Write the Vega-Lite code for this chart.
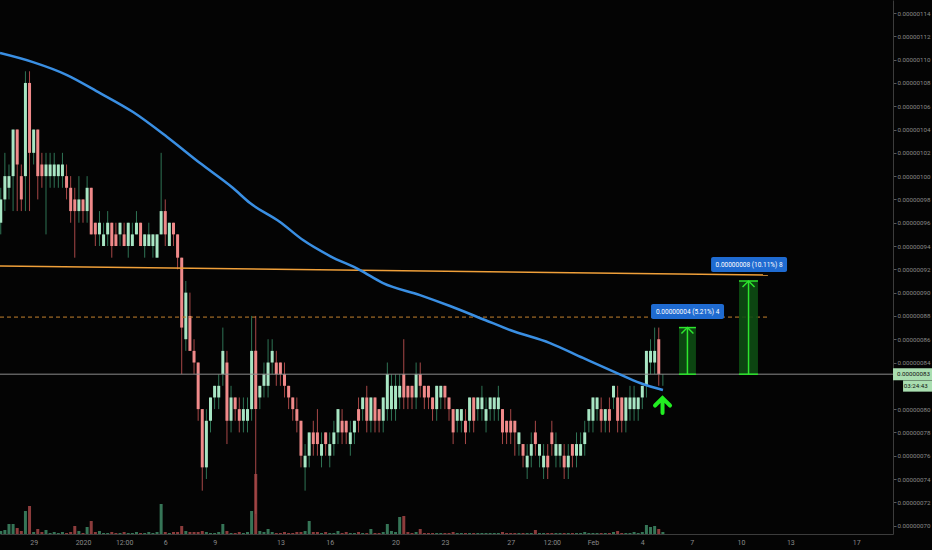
{
"$schema":"https://vega.github.io/schema/vega-lite/v6.json",
"width":893,"height":534,
"autosize":{"type":"none"},
"padding":{"left":0,"top":0,"right":39,"bottom":16},
"config":{"background":"#040404","view":{"stroke":null},"font":"Roboto","axis":{"grid":false}},
"datasets":{
"candles":[
{"t":"2019-12-27T00:00Z","open":96,"high":99,"low":95,"close":98,"volume":3},
{"t":"2019-12-27T06:00Z","open":98,"high":102,"low":97,"close":100,"volume":4},
{"t":"2019-12-27T12:00Z","open":99,"high":101,"low":98,"close":100,"volume":10},
{"t":"2019-12-27T18:00Z","open":100,"high":104,"low":97,"close":104,"volume":10},
{"t":"2019-12-28T00:00Z","open":104,"high":104,"low":97,"close":101,"volume":6},
{"t":"2019-12-28T06:00Z","open":100,"high":101,"low":97,"close":98,"volume":3},
{"t":"2019-12-28T12:00Z","open":100,"high":109,"low":97,"close":108,"volume":23},
{"t":"2019-12-28T18:00Z","open":108,"high":109,"low":97,"close":102,"volume":28},
{"t":"2019-12-29T00:00Z","open":102,"high":104,"low":101,"close":104,"volume":2},
{"t":"2019-12-29T06:00Z","open":104,"high":104,"low":98,"close":100,"volume":5},
{"t":"2019-12-29T12:00Z","open":101,"high":102,"low":99,"close":100,"volume":2},
{"t":"2019-12-29T18:00Z","open":100,"high":102,"low":95,"close":101,"volume":4},
{"t":"2019-12-30T00:00Z","open":100,"high":102,"low":99,"close":101,"volume":1},
{"t":"2019-12-30T06:00Z","open":100,"high":102,"low":99,"close":101,"volume":2},
{"t":"2019-12-30T12:00Z","open":100,"high":101,"low":99,"close":101,"volume":1},
{"t":"2019-12-30T18:00Z","open":100,"high":102,"low":99,"close":101,"volume":2},
{"t":"2019-12-31T00:00Z","open":100,"high":101,"low":98,"close":99,"volume":1},
{"t":"2019-12-31T06:00Z","open":99,"high":100,"low":96,"close":97,"volume":2},
{"t":"2019-12-31T12:00Z","open":98,"high":99,"low":93,"close":97,"volume":8},
{"t":"2019-12-31T18:00Z","open":97,"high":100,"low":96,"close":98,"volume":3},
{"t":"2020-01-01T00:00Z","open":98,"high":98,"low":96,"close":97,"volume":1},
{"t":"2020-01-01T06:00Z","open":97,"high":100,"low":96,"close":99,"volume":7},
{"t":"2020-01-01T12:00Z","open":99,"high":99,"low":95,"close":95,"volume":13},
{"t":"2020-01-01T18:00Z","open":96,"high":96,"low":94,"close":95,"volume":2},
{"t":"2020-01-02T00:00Z","open":95,"high":97,"low":94,"close":96,"volume":3},
{"t":"2020-01-02T06:00Z","open":94,"high":96,"low":94,"close":95,"volume":1},
{"t":"2020-01-02T12:00Z","open":95,"high":97,"low":94,"close":96,"volume":1},
{"t":"2020-01-02T18:00Z","open":96,"high":96,"low":93,"close":94,"volume":2},
{"t":"2020-01-03T00:00Z","open":95,"high":96,"low":94,"close":94,"volume":1},
{"t":"2020-01-03T06:00Z","open":95,"high":96,"low":94,"close":96,"volume":1},
{"t":"2020-01-03T12:00Z","open":95,"high":96,"low":94,"close":94,"volume":2},
{"t":"2020-01-03T18:00Z","open":94,"high":96,"low":93,"close":96,"volume":1},
{"t":"2020-01-04T00:00Z","open":94,"high":96,"low":94,"close":95,"volume":1},
{"t":"2020-01-04T06:00Z","open":95,"high":97,"low":95,"close":96,"volume":2},
{"t":"2020-01-04T12:00Z","open":96,"high":96,"low":94,"close":94,"volume":1},
{"t":"2020-01-04T18:00Z","open":94,"high":95,"low":93,"close":95,"volume":1},
{"t":"2020-01-05T00:00Z","open":94,"high":96,"low":94,"close":95,"volume":2},
{"t":"2020-01-05T06:00Z","open":94,"high":95,"low":93,"close":95,"volume":1},
{"t":"2020-01-05T12:00Z","open":93,"high":95,"low":93,"close":95,"volume":2},
{"t":"2020-01-05T18:00Z","open":95,"high":102,"low":95,"close":97,"volume":30},
{"t":"2020-01-06T00:00Z","open":97,"high":98,"low":94,"close":95,"volume":2},
{"t":"2020-01-06T06:00Z","open":94,"high":96,"low":94,"close":96,"volume":1},
{"t":"2020-01-06T12:00Z","open":96,"high":96,"low":94,"close":95,"volume":2},
{"t":"2020-01-06T18:00Z","open":95,"high":95,"low":92,"close":93,"volume":2},
{"t":"2020-01-07T00:00Z","open":93,"high":93,"low":83,"close":87,"volume":8},
{"t":"2020-01-07T06:00Z","open":86,"high":91,"low":85,"close":90,"volume":3},
{"t":"2020-01-07T12:00Z","open":88,"high":90,"low":85,"close":85,"volume":2},
{"t":"2020-01-07T18:00Z","open":85,"high":86,"low":83,"close":84,"volume":2},
{"t":"2020-01-08T00:00Z","open":84,"high":84,"low":79,"close":80,"volume":2},
{"t":"2020-01-08T06:00Z","open":80,"high":80,"low":73,"close":75,"volume":3},
{"t":"2020-01-08T12:00Z","open":75,"high":80,"low":74,"close":79,"volume":2},
{"t":"2020-01-08T18:00Z","open":79,"high":81,"low":78,"close":81,"volume":1},
{"t":"2020-01-09T00:00Z","open":81,"high":82,"low":80,"close":82,"volume":1},
{"t":"2020-01-09T06:00Z","open":81,"high":83,"low":80,"close":82,"volume":2},
{"t":"2020-01-09T12:00Z","open":83,"high":87,"low":82,"close":85,"volume":10},
{"t":"2020-01-09T18:00Z","open":84,"high":85,"low":77,"close":79,"volume":3},
{"t":"2020-01-10T00:00Z","open":79,"high":82,"low":78,"close":81,"volume":1},
{"t":"2020-01-10T06:00Z","open":81,"high":81,"low":79,"close":80,"volume":1},
{"t":"2020-01-10T12:00Z","open":80,"high":81,"low":78,"close":79,"volume":2},
{"t":"2020-01-10T18:00Z","open":79,"high":81,"low":78,"close":80,"volume":1},
{"t":"2020-01-11T00:00Z","open":79,"high":81,"low":78,"close":80,"volume":2},
{"t":"2020-01-11T06:00Z","open":80,"high":88,"low":79,"close":85,"volume":23},
{"t":"2020-01-11T12:00Z","open":85,"high":88,"low":71,"close":80,"volume":60},
{"t":"2020-01-11T18:00Z","open":81,"high":82,"low":80,"close":82,"volume":3},
{"t":"2020-01-12T00:00Z","open":82,"high":84,"low":81,"close":83,"volume":2},
{"t":"2020-01-12T06:00Z","open":82,"high":86,"low":81,"close":84,"volume":5},
{"t":"2020-01-12T12:00Z","open":84,"high":86,"low":83,"close":85,"volume":2},
{"t":"2020-01-12T18:00Z","open":84,"high":85,"low":82,"close":83,"volume":1},
{"t":"2020-01-13T00:00Z","open":84,"high":84,"low":82,"close":83,"volume":1},
{"t":"2020-01-13T06:00Z","open":83,"high":84,"low":81,"close":82,"volume":2},
{"t":"2020-01-13T12:00Z","open":82,"high":82,"low":80,"close":81,"volume":1},
{"t":"2020-01-13T18:00Z","open":81,"high":81,"low":79,"close":80,"volume":1},
{"t":"2020-01-14T00:00Z","open":80,"high":81,"low":78,"close":79,"volume":2},
{"t":"2020-01-14T06:00Z","open":79,"high":79,"low":75,"close":76,"volume":2},
{"t":"2020-01-14T12:00Z","open":75,"high":77,"low":73,"close":76,"volume":3},
{"t":"2020-01-14T18:00Z","open":76,"high":78,"low":75,"close":78,"volume":13},
{"t":"2020-01-15T00:00Z","open":78,"high":79,"low":76,"close":77,"volume":2},
{"t":"2020-01-15T06:00Z","open":78,"high":80,"low":76,"close":77,"volume":2},
{"t":"2020-01-15T12:00Z","open":76,"high":78,"low":75,"close":77,"volume":1},
{"t":"2020-01-15T18:00Z","open":78,"high":78,"low":76,"close":77,"volume":2},
{"t":"2020-01-16T00:00Z","open":76,"high":78,"low":75,"close":77,"volume":1},
{"t":"2020-01-16T06:00Z","open":77,"high":79,"low":76,"close":78,"volume":1},
{"t":"2020-01-16T12:00Z","open":78,"high":80,"low":77,"close":80,"volume":3},
{"t":"2020-01-16T18:00Z","open":79,"high":80,"low":77,"close":78,"volume":1},
{"t":"2020-01-17T00:00Z","open":79,"high":79,"low":77,"close":78,"volume":2},
{"t":"2020-01-17T06:00Z","open":77,"high":79,"low":76,"close":78,"volume":1},
{"t":"2020-01-17T12:00Z","open":78,"high":79,"low":77,"close":79,"volume":1},
{"t":"2020-01-17T18:00Z","open":80,"high":81,"low":78,"close":79,"volume":2},
{"t":"2020-01-18T00:00Z","open":80,"high":81,"low":79,"close":81,"volume":1},
{"t":"2020-01-18T06:00Z","open":81,"high":82,"low":78,"close":79,"volume":1},
{"t":"2020-01-18T12:00Z","open":79,"high":81,"low":78,"close":81,"volume":5},
{"t":"2020-01-18T18:00Z","open":81,"high":81,"low":78,"close":79,"volume":1},
{"t":"2020-01-19T00:00Z","open":80,"high":80,"low":78,"close":79,"volume":1},
{"t":"2020-01-19T06:00Z","open":79,"high":81,"low":78,"close":81,"volume":2},
{"t":"2020-01-19T12:00Z","open":80,"high":84,"low":79,"close":83,"volume":10},
{"t":"2020-01-19T18:00Z","open":80,"high":83,"low":79,"close":82,"volume":3},
{"t":"2020-01-20T00:00Z","open":80,"high":83,"low":79,"close":82,"volume":2},
{"t":"2020-01-20T06:00Z","open":81,"high":83,"low":80,"close":82,"volume":17},
{"t":"2020-01-20T12:00Z","open":83,"high":86,"low":80,"close":81,"volume":18},
{"t":"2020-01-20T18:00Z","open":82,"high":82,"low":80,"close":81,"volume":2},
{"t":"2020-01-21T00:00Z","open":82,"high":82,"low":80,"close":81,"volume":1},
{"t":"2020-01-21T06:00Z","open":81,"high":84,"low":80,"close":83,"volume":2},
{"t":"2020-01-21T12:00Z","open":83,"high":84,"low":81,"close":82,"volume":5},
{"t":"2020-01-21T18:00Z","open":82,"high":82,"low":80,"close":81,"volume":1},
{"t":"2020-01-22T00:00Z","open":82,"high":82,"low":80,"close":81,"volume":1},
{"t":"2020-01-22T06:00Z","open":81,"high":81,"low":79,"close":80,"volume":1},
{"t":"2020-01-22T12:00Z","open":80,"high":82,"low":79,"close":82,"volume":1},
{"t":"2020-01-22T18:00Z","open":81,"high":82,"low":80,"close":82,"volume":1},
{"t":"2020-01-23T00:00Z","open":82,"high":82,"low":80,"close":81,"volume":1},
{"t":"2020-01-23T06:00Z","open":81,"high":81,"low":79,"close":80,"volume":1},
{"t":"2020-01-23T12:00Z","open":80,"high":80,"low":77,"close":78,"volume":2},
{"t":"2020-01-23T18:00Z","open":79,"high":80,"low":78,"close":80,"volume":1},
{"t":"2020-01-24T00:00Z","open":79,"high":80,"low":78,"close":80,"volume":1},
{"t":"2020-01-24T06:00Z","open":79,"high":80,"low":77,"close":78,"volume":1},
{"t":"2020-01-24T12:00Z","open":79,"high":81,"low":78,"close":81,"volume":1},
{"t":"2020-01-24T18:00Z","open":81,"high":81,"low":78,"close":79,"volume":1},
{"t":"2020-01-25T00:00Z","open":80,"high":81,"low":79,"close":81,"volume":1},
{"t":"2020-01-25T06:00Z","open":80,"high":82,"low":79,"close":81,"volume":1},
{"t":"2020-01-25T12:00Z","open":79,"high":81,"low":78,"close":80,"volume":1},
{"t":"2020-01-25T18:00Z","open":80,"high":81,"low":79,"close":81,"volume":1},
{"t":"2020-01-26T00:00Z","open":80,"high":81,"low":79,"close":81,"volume":1},
{"t":"2020-01-26T06:00Z","open":80,"high":82,"low":79,"close":81,"volume":1},
{"t":"2020-01-26T12:00Z","open":80,"high":80,"low":77,"close":78,"volume":2},
{"t":"2020-01-26T18:00Z","open":79,"high":79,"low":77,"close":78,"volume":1},
{"t":"2020-01-27T00:00Z","open":79,"high":80,"low":77,"close":78,"volume":1},
{"t":"2020-01-27T06:00Z","open":79,"high":79,"low":76,"close":78,"volume":1},
{"t":"2020-01-27T12:00Z","open":77,"high":78,"low":76,"close":78,"volume":1},
{"t":"2020-01-27T18:00Z","open":77,"high":77,"low":75,"close":76,"volume":1},
{"t":"2020-01-28T00:00Z","open":75,"high":77,"low":74,"close":76,"volume":1},
{"t":"2020-01-28T06:00Z","open":76,"high":78,"low":75,"close":77,"volume":1},
{"t":"2020-01-28T12:00Z","open":78,"high":79,"low":76,"close":77,"volume":4},
{"t":"2020-01-28T18:00Z","open":76,"high":77,"low":75,"close":77,"volume":1},
{"t":"2020-01-29T00:00Z","open":75,"high":77,"low":74,"close":76,"volume":1},
{"t":"2020-01-29T06:00Z","open":76,"high":77,"low":74,"close":75,"volume":1},
{"t":"2020-01-29T12:00Z","open":78,"high":79,"low":76,"close":77,"volume":1},
{"t":"2020-01-29T18:00Z","open":76,"high":78,"low":75,"close":77,"volume":1},
{"t":"2020-01-30T00:00Z","open":76,"high":77,"low":75,"close":77,"volume":1},
{"t":"2020-01-30T06:00Z","open":76,"high":77,"low":74,"close":75,"volume":1},
{"t":"2020-01-30T12:00Z","open":75,"high":77,"low":74,"close":76,"volume":1},
{"t":"2020-01-30T18:00Z","open":77,"high":77,"low":75,"close":76,"volume":1},
{"t":"2020-01-31T00:00Z","open":76,"high":78,"low":75,"close":77,"volume":1},
{"t":"2020-01-31T06:00Z","open":76,"high":78,"low":76,"close":77,"volume":1},
{"t":"2020-01-31T12:00Z","open":77,"high":79,"low":76,"close":78,"volume":2},
{"t":"2020-01-31T18:00Z","open":79,"high":80,"low":78,"close":80,"volume":1},
{"t":"2020-02-01T00:00Z","open":79,"high":81,"low":78,"close":81,"volume":1},
{"t":"2020-02-01T06:00Z","open":80,"high":81,"low":79,"close":81,"volume":1},
{"t":"2020-02-01T12:00Z","open":80,"high":81,"low":78,"close":79,"volume":1},
{"t":"2020-02-01T18:00Z","open":79,"high":80,"low":78,"close":80,"volume":1},
{"t":"2020-02-02T00:00Z","open":80,"high":81,"low":78,"close":79,"volume":1},
{"t":"2020-02-02T06:00Z","open":81,"high":82,"low":80,"close":82,"volume":2},
{"t":"2020-02-02T12:00Z","open":81,"high":82,"low":78,"close":79,"volume":3},
{"t":"2020-02-02T18:00Z","open":81,"high":81,"low":78,"close":79,"volume":1},
{"t":"2020-02-03T00:00Z","open":79,"high":81,"low":78,"close":81,"volume":1},
{"t":"2020-02-03T06:00Z","open":80,"high":82,"low":79,"close":81,"volume":1},
{"t":"2020-02-03T12:00Z","open":80,"high":82,"low":79,"close":81,"volume":2},
{"t":"2020-02-03T18:00Z","open":80,"high":81,"low":79,"close":81,"volume":1},
{"t":"2020-02-04T00:00Z","open":81,"high":82,"low":80,"close":82,"volume":2},
{"t":"2020-02-04T06:00Z","open":82,"high":85,"low":81,"close":85,"volume":9},
{"t":"2020-02-04T12:00Z","open":84,"high":86,"low":83,"close":85,"volume":7},
{"t":"2020-02-04T18:00Z","open":84,"high":87,"low":83,"close":85,"volume":8},
{"t":"2020-02-05T00:00Z","open":86,"high":87,"low":82,"close":83,"volume":5},
{"t":"2020-02-05T06:00Z","open":83,"high":83,"low":82,"close":83,"volume":2}
],
"ma":[
{"t":"2019-12-26T22:54Z","ma":110.57},
{"t":"2019-12-28T23:00Z","ma":109.79},
{"t":"2019-12-31T00:40Z","ma":108.68},
{"t":"2020-01-02T00:50Z","ma":107.13},
{"t":"2020-01-04T01:00Z","ma":105.5},
{"t":"2020-01-06T02:40Z","ma":103.36},
{"t":"2020-01-08T02:40Z","ma":101.12},
{"t":"2020-01-10T02:50Z","ma":98.98},
{"t":"2020-01-11T03:40Z","ma":97.69},
{"t":"2020-01-12T23:25Z","ma":96.06},
{"t":"2020-01-14T09:00Z","ma":94.51},
{"t":"2020-01-16T00:25Z","ma":93.14},
{"t":"2020-01-17T20:10Z","ma":91.94},
{"t":"2020-01-19T05:45Z","ma":90.82},
{"t":"2020-01-21T11:40Z","ma":89.79},
{"t":"2020-01-23T07:25Z","ma":88.85},
{"t":"2020-01-25T10:30Z","ma":87.65},
{"t":"2020-01-26T23:00Z","ma":86.79},
{"t":"2020-01-29T09:20Z","ma":85.67},
{"t":"2020-01-31T09:30Z","ma":84.39},
{"t":"2020-02-02T11:05Z","ma":83.09},
{"t":"2020-02-03T20:40Z","ma":82.24},
{"t":"2020-02-05T06:10Z","ma":81.64}
]
},
"encoding":{
"x":{"field":"t","type":"temporal",
"scale":{"type":"utc","padding":0,"domain":[{"year":2019,"month":12,"date":26,"hours":22,"minutes":54,"utc":true},{"year":2020,"month":2,"date":19,"hours":5,"minutes":45,"utc":true}]},
"axis":{"title":null,"grid":false,"ticks":false,"labelPadding":4,"labelColor":"#8a8a8a","labelFontSize":7,"labelFlush":false,"domainColor":"#3c3c3c",
"values":[{"year":2019,"month":12,"date":29,"utc":true},{"year":2020,"month":1,"date":1,"utc":true},{"year":2020,"month":1,"date":3,"hours":12,"utc":true},{"year":2020,"month":1,"date":6,"utc":true},{"year":2020,"month":1,"date":9,"utc":true},{"year":2020,"month":1,"date":13,"utc":true},{"year":2020,"month":1,"date":16,"utc":true},{"year":2020,"month":1,"date":20,"utc":true},{"year":2020,"month":1,"date":23,"utc":true},{"year":2020,"month":1,"date":27,"utc":true},{"year":2020,"month":1,"date":29,"hours":12,"utc":true},{"year":2020,"month":2,"date":1,"utc":true},{"year":2020,"month":2,"date":4,"utc":true},{"year":2020,"month":2,"date":7,"utc":true},{"year":2020,"month":2,"date":10,"utc":true},{"year":2020,"month":2,"date":13,"utc":true},{"year":2020,"month":2,"date":17,"utc":true}],
"labelExpr":"utcFormat(datum.value,'%H')=='12' ? '12:00' : (utcFormat(datum.value,'%m-%d')=='01-01' ? '2020' : (utcFormat(datum.value,'%m-%d')=='02-01' ? 'Feb' : utcFormat(datum.value,'%-d')))"}}
},
"layer":[
{"data":{"name":"candles"},"mark":{"type":"bar","size":3,"opacity":0.85},
"encoding":{"y":{"field":"volume","type":"quantitative","scale":{"domain":[0,534]},"axis":null},
"color":{"condition":{"test":"datum.open <= datum.close","value":"#3f8a66"},"value":"#a54646"}}},
{"data":{"name":"candles"},"mark":{"type":"rule","strokeWidth":1},
"encoding":{"y":{"field":"low","type":"quantitative","scale":{"domain":[69.28,115.12],"nice":false,"zero":false},
"axis":{"orient":"right","title":null,"grid":false,"values":[70,72,74,76,78,80,84,86,88,90,92,94,96,98,100,102,104,106,108,110,112,114],"labelExpr":"format(datum.value*1e-8,'.8f')","labelAlign":"left","labelColor":"#8a8a8a","labelFontSize":6.2,"labelPadding":1,"tickSize":3,"tickColor":"#5a5a5a","domainColor":"#3c3c3c"}},
"y2":{"field":"high"},
"color":{"condition":{"test":"datum.open <= datum.close","value":"#2f7455"},"value":"#a84848"}}},
{"data":{"name":"candles"},"mark":{"type":"bar","size":3},
"encoding":{"y":{"field":"open","type":"quantitative","scale":{"domain":[69.28,115.12],"nice":false,"zero":false},"axis":null},"y2":{"field":"close"},
"color":{"condition":{"test":"datum.open <= datum.close","value":"#a8e6c4"},"value":"#f08a8a"}}},
{"data":{"values":[{"t":"2019-12-26T22:54Z","t2":"2020-02-19T05:45Z","price":83}]},"mark":{"type":"rule","color":"#8c8c8c","strokeWidth":1},
"encoding":{"x2":{"field":"t2"},"y":{"field":"price","type":"quantitative","scale":{"domain":[69.28,115.12],"nice":false,"zero":false},"axis":null}}},
{"data":{"values":[{"t":"2019-12-26T22:54Z","t2":"2020-02-11T14:40Z","price":87.9}]},"mark":{"type":"rule","color":"#c4822e","strokeWidth":1,"strokeDash":[4,3]},
"encoding":{"x2":{"field":"t2"},"y":{"field":"price","type":"quantitative","scale":{"domain":[69.28,115.12],"nice":false,"zero":false},"axis":null}}},
{"data":{"values":[{"t":"2019-12-26T22:54Z","t2":"2020-02-11T15:20Z","price":92.28,"price2":91.51}]},"mark":{"type":"rule","color":"#f0a03a","strokeWidth":1.5},
"encoding":{"x2":{"field":"t2"},"y":{"field":"price","type":"quantitative","scale":{"domain":[69.28,115.12],"nice":false,"zero":false},"axis":null},"y2":{"field":"price2"}}},
{"data":{"name":"ma"},"mark":{"type":"line","color":"#3a8fe3","strokeWidth":2.5,"interpolate":"monotone"},
"encoding":{"y":{"field":"ma","type":"quantitative","scale":{"domain":[69.28,115.12],"nice":false,"zero":false},"axis":null}}},
{"data":{"values":[{"t":"2020-02-06T05:30Z","t2":"2020-02-07T06:15Z","price":83,"price2":87},{"t":"2020-02-09T21:05Z","t2":"2020-02-11T00:45Z","price":83,"price2":91}]},"mark":{"type":"rect","color":"#0d4d13","opacity":0.9},
"encoding":{"x2":{"field":"t2"},"y":{"field":"price","type":"quantitative","scale":{"domain":[69.28,115.12],"nice":false,"zero":false},"axis":null},"y2":{"field":"price2"}}},
{"data":{"values":[{"t":"2020-02-06T05:30Z","t2":"2020-02-07T06:15Z","price":83},{"t":"2020-02-06T05:30Z","t2":"2020-02-07T06:15Z","price":87},{"t":"2020-02-09T21:05Z","t2":"2020-02-11T00:45Z","price":83},{"t":"2020-02-09T21:05Z","t2":"2020-02-11T00:45Z","price":91}]},"mark":{"type":"rule","color":"#2ee62e","strokeWidth":1.5},
"encoding":{"x2":{"field":"t2"},"y":{"field":"price","type":"quantitative","scale":{"domain":[69.28,115.12],"nice":false,"zero":false},"axis":null}}},
{"data":{"values":[{"t":"2020-02-06T17:50Z","price":83,"price2":87},{"t":"2020-02-10T11:00Z","price":83,"price2":91}]},"mark":{"type":"rule","color":"#2ee62e","strokeWidth":1.5},
"encoding":{"y":{"field":"price","type":"quantitative","scale":{"domain":[69.28,115.12],"nice":false,"zero":false},"axis":null},"y2":{"field":"price2"}}},
{"data":{"values":[{"t":"2020-02-06T17:50Z","price":87},{"t":"2020-02-10T11:00Z","price":91}]},"mark":{"type":"point","shape":"M-1,1L0,0L1,1","size":144,"filled":false,"stroke":"#2ee62e","strokeWidth":1.5,"opacity":1},
"encoding":{"y":{"field":"price","type":"quantitative","scale":{"domain":[69.28,115.12],"nice":false,"zero":false},"axis":null}}},
{"data":{"values":[{"t":"2020-02-04T12:45Z","t2":"2020-02-08T23:15Z","price":89.02,"price2":87.73},{"t":"2020-02-08T04:20Z","t2":"2020-02-12T19:10Z","price":93.06,"price2":91.77}]},"mark":{"type":"rect","color":"#1f6bd1","cornerRadius":2},
"encoding":{"x2":{"field":"t2"},"y":{"field":"price","type":"quantitative","scale":{"domain":[69.28,115.12],"nice":false,"zero":false},"axis":null},"y2":{"field":"price2"}}},
{"data":{"values":[{"t":"2020-02-06T18:10Z","price":88.38,"label":"0.00000004 (5.21%) 4"},{"t":"2020-02-10T11:45Z","price":92.41,"label":"0.00000008 (10.11%) 8"}]},"mark":{"type":"text","color":"#ffffff","fontSize":6.5,"align":"center","baseline":"middle"},
"encoding":{"y":{"field":"price","type":"quantitative","scale":{"domain":[69.28,115.12],"nice":false,"zero":false},"axis":null},"text":{"field":"label"}}},
{"data":{"values":[{"t":"2020-02-05T05:30Z","price":80.31}]},"mark":{"type":"point","shape":"M-1,0L0,-1L1,0M0,-1L0,1","size":225,"filled":false,"stroke":"#22ee22","strokeWidth":4,"opacity":1,"strokeCap":"round"},
"encoding":{"y":{"field":"price","type":"quantitative","scale":{"domain":[69.28,115.12],"nice":false,"zero":false},"axis":null}}},
{"data":{"values":[{"t":"2020-02-19T05:45Z","t2":"2020-02-21T14:40Z","price":83.5,"price2":82.48},{"t":"2020-02-19T20:25Z","t2":"2020-02-21T14:40Z","price":82.46,"price2":81.5}]},"mark":{"type":"rect","color":"#a9deb0"},
"encoding":{"x2":{"field":"t2"},"y":{"field":"price","type":"quantitative","scale":{"domain":[69.28,115.12],"nice":false,"zero":false},"axis":null},"y2":{"field":"price2"}}},
{"data":{"values":[{"t":"2020-02-19T11:30Z","price":83,"label":"0.00000083"},{"t":"2020-02-19T21:30Z","price":81.98,"label":"03:24:43"}]},"mark":{"type":"text","color":"#111111","fontSize":6.2,"align":"left","baseline":"middle"},
"encoding":{"y":{"field":"price","type":"quantitative","scale":{"domain":[69.28,115.12],"nice":false,"zero":false},"axis":null},"text":{"field":"label"}}}
],
"resolve":{"scale":{"y":"independent"}}
}
